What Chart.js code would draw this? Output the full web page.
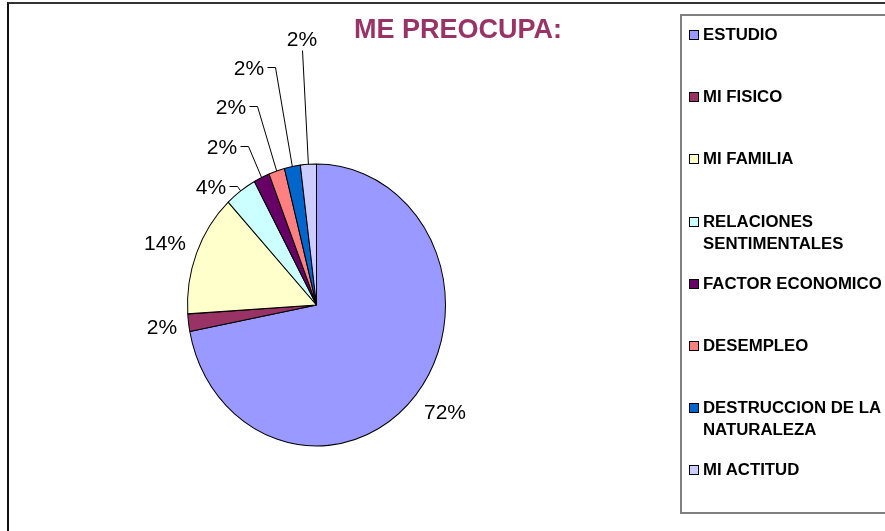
<!DOCTYPE html>
<html>
<head>
<meta charset="utf-8">
<script src="https://cdn.jsdelivr.net/npm/chart.js@4.4.1/dist/chart.umd.min.js"></script>
<style>
html, body { margin: 0; padding: 0; background: #fff; overflow: hidden; width: 885px; height: 531px; }
#frame { position: absolute; left: 7px; top: 2px; width: 1000px; height: 700px; border-left: 2px solid #111; border-top: 2px solid #333; }
#title { position: absolute; left: 0; top: 16px; width: 916px; text-align: center; font: bold 27px "Liberation Sans", Arial, sans-serif; line-height: 27px; color: #993366; }
#legend { position: absolute; left: 680px; top: 14px; width: 260px; height: 500px; border: 2px solid #808080; box-sizing: border-box; }
.item { position: absolute; left: 689px; font: bold 16.8px "Liberation Sans", Arial, sans-serif; line-height: 22px; color: #000; }
.item .sw { position: absolute; left: 0; top: 6px; width: 8px; height: 8px; border: 1px solid #000; }
.item .tx { position: absolute; left: 14px; top: 0; width: 186px; }
canvas { position: absolute; left: 0; top: 0; }
</style>
</head>
<body>
<div id="frame"></div>
<canvas id="pie" width="885" height="531"></canvas>
<div id="title">ME PREOCUPA:</div>
<div id="legend"></div>
<script>
// data
const categories = ['ESTUDIO', 'MI FISICO', 'MI FAMILIA', 'RELACIONES SENTIMENTALES',
  'FACTOR ECONOMICO', 'DESEMPLEO', 'DESTRUCCION DE LA NATURALEZA', 'MI ACTITUD'];
const shares = [72, 2, 14, 4, 2, 2, 2, 2];
const colors = ['#9999FF', '#993366', '#FFFFCC', '#CCFFFF', '#660066', '#FF8080', '#0066CC', '#CCCCFF'];

const K = 141 / 129; // the pie is drawn a bit taller than wide

function clamp(v) { return Math.max(-1, Math.min(1, v)); }

// stretch the pie vertically around its centre
const ellipse = {
  id: 'ellipse',
  beforeDatasetsDraw(chart) {
    const a = chart.getDatasetMeta(0).data[0];
    const ctx = chart.ctx;
    ctx.save();
    ctx.translate(a.x, a.y);
    ctx.scale(1, K);
    ctx.translate(-a.x, -a.y);
  },
  afterDatasetsDraw(chart) { chart.ctx.restore(); }
};

// percentage labels, small top slices get leader lines and are stacked
const pctLabels = {
  id: 'pctLabels',
  afterDraw(chart) {
    const ctx = chart.ctx;
    const arcs = chart.getDatasetMeta(0).data;
    const vals = chart.data.datasets[0].data;
    const total = vals.reduce((s, v) => s + v, 0);
    const H = 17, GAP = 22;
    let prevTop = null;
    ctx.save();
    ctx.font = '21px "Liberation Sans", Arial, sans-serif';
    ctx.fillStyle = '#000';
    ctx.strokeStyle = '#000';
    ctx.lineWidth = 1;
    ctx.textAlign = 'center';
    ctx.textBaseline = 'alphabetic';
    arcs.forEach((arc, i) => {
      const text = Math.round(vals[i] / total * 100) + '%';
      const w = ctx.measureText(text).width;
      const mid = (arc.startAngle + arc.endAngle) / 2;
      const dx = Math.cos(mid), dy = Math.sin(mid);
      const R = arc.outerRadius;
      const at = r => ({ x: arc.x + r * dx, y: arc.y + r * dy * K });
      let cx, cy;
      if (vals[i] / total < 0.05 && dy < 0) {
        const side = Math.abs(dx) > 0.15 ? Math.sign(dx) : 0;
        const gap = side ? GAP : GAP / 2;
        let r = R + 6, e, top, bottom;
        for (; r < R + 400; r++) {
          e = at(r);
          cy = side ? e.y : e.y - 3 - H / 2;
          top = cy - H / 2; bottom = cy + H / 2;
          if (prevTop === null || bottom <= prevTop - gap) break;
        }
        prevTop = top;
        const ex = Math.round(e.x) + 0.5, ey = Math.round(e.y) + 0.5;
        const s = at(R);
        ctx.beginPath();
        ctx.moveTo(s.x, s.y);
        ctx.lineTo(ex, ey);
        if (side) ctx.lineTo(ex + side * 8, ey);
        ctx.stroke();
        cx = side ? e.x + side * (11 + w / 2) : e.x;
        if (side) cy = ey;
      } else {
        const p = at(R + 11);
        cx = p.x + w / 2 * clamp(2 * dx);
        cy = p.y + H / 2 * clamp(2 * dy);
      }
      ctx.fillText(text, Math.round(cx), Math.round(cy + 7.5));
    });
    ctx.restore();
  }
};

const chart = new Chart(document.getElementById('pie'), {
  type: 'pie',
  data: {
    labels: categories,
    datasets: [{
      data: shares,
      backgroundColor: colors,
      borderColor: '#000',
      borderWidth: 1,
      hoverOffset: 0
    }]
  },
  options: {
    responsive: false,
    animation: false,
    devicePixelRatio: 1,
    radius: 129,
    layout: { padding: { left: 0, right: 252, top: 79, bottom: 0 } },
    plugins: { legend: { display: false }, tooltip: { enabled: false } }
  },
  plugins: [ellipse, pctLabels]
});

// legend built from the chart's own labels and colours
const firstRow = 35, rowStep = 62.1;
chart.data.labels.forEach((lab, i) => {
  const yc = firstRow + rowStep * i;
  const item = document.createElement('div');
  item.className = 'item';
  item.style.top = (yc - 10.8) + 'px';
  item.innerHTML = '<span class="sw" style="background:' + chart.data.datasets[0].backgroundColor[i] + '"></span>' +
    '<div class="tx">' + lab + '</div>';
  document.body.appendChild(item);
});
</script>
</body>
</html>
